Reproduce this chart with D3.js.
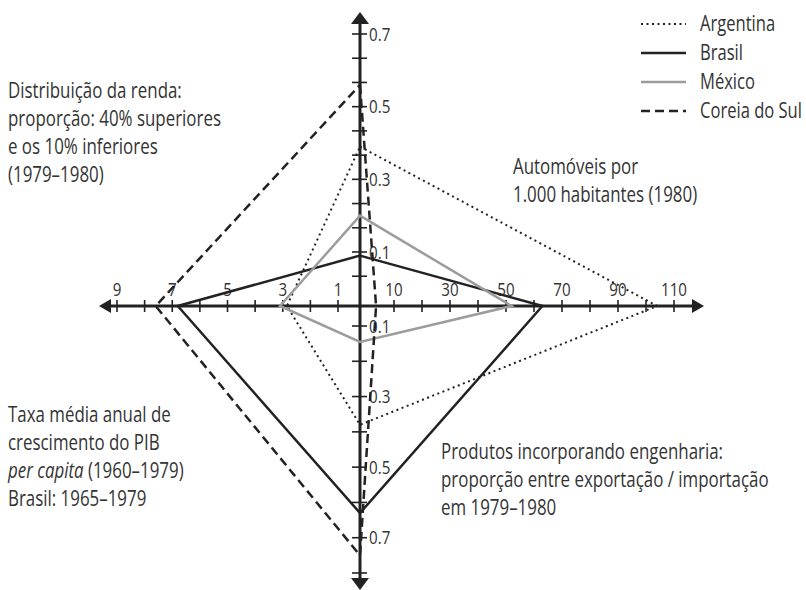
<!DOCTYPE html>
<html><head><meta charset="utf-8">
<script src="https://cdn.jsdelivr.net/npm/d3@7"></script>
<style>
body{margin:0;background:#fff}
text{font-family:"Open Sans","Liberation Sans",sans-serif;fill:#333}
</style>
</head><body><svg id="c" width="806" height="590"></svg>
<script>
// ---- data ----
const series = ["Argentina", "Brasil", "México", "Coreia do Sul"];
const topVals = [0.39, 0.09, 0.20, 0.56];      // Distribuição da renda
const rightVals = [104, 63, 52, 3.6];          // Automóveis por 1.000 hab.
const bottomVals = [0.38, 0.63, 0.145, 0.75];  // Produtos incorporando engenharia
const leftVals = [2.85, 6.8, 3.1, 7.6];        // Taxa média anual PIB per capita

const leftTicks = [1, 2, 3, 4, 5, 6, 7, 8, 9];
const leftLabels = [9, 7, 5, 3, 1];
const rightTicks = [10, 20, 30, 40, 50, 60, 70, 80, 90, 100, 110];
const rightLabels = [10, 30, 50, 70, 90, 110];
const topLabels = ["0.7", "0.5", "0.3", "0.1"];
const bottomTicks = [0.1, 0.2, 0.3, 0.4, 0.5, 0.6, 0.7, 0.8];
const bottomLabels = ["0.1", "0.3", "0.5", "0.7"];

const topText = ["Distribuição da renda:", "proporção: 40% superiores", "e os 10% inferiores", "(1979–1980)"];
const rightText = ["Automóveis por", "1.000 habitantes (1980)"];
const bottomText = ["Produtos incorporando engenharia:", "proporção entre exportação / importação", "em 1979–1980"];
const leftText = ["Taxa média anual de", "crescimento do PIB", "(1960–1979)", "Brasil: 1965–1979"];

// ---- layout ----
const svg = d3.select("#c");
const cx = 360, cy = 306;
const ink = "#222";
const yTop = d3.scaleLinear().domain([0.1, 0.7]).range([252, 34]);
const xRight = d3.scaleLinear().domain([10, 110]).range([394, 674]);
const yBottom = d3.scaleLinear().domain([0.1, 0.8]).range([326, 573]);
const xLeft = d3.scaleLinear().domain([1, 9]).range([338, 117]);
const topTicks = d3.range(11).map(i => 0.7 - i * 0.2 / 3);

const styles = [
  {color: ink, width: 2, dash: "2,3.5"},
  {color: ink, width: 2.5, dash: null},
  {color: "#9c9c9c", width: 2.5, dash: null},
  {color: ink, width: 2.5, dash: "9,5"}
];

function measure(str, size) {
  const t = svg.append("text").attr("font-size", size).text(str);
  const w = t.node().getComputedTextLength();
  t.remove();
  return w;
}
const fs = 21, lh = 28, tf = 19;
const sxText = 328 / measure(bottomText[1], fs);
const sxLeg = Math.min(80 / measure("Argentina", fs), 102 / measure("Coreia do Sul", fs));
const sxTick = 26 / measure("110", tf);
function squeeze(sel, ax, sx) {
  sel.attr("transform", `translate(${ax},0) scale(${sx},1) translate(${-ax},0)`);
}

// axes
const ax = svg.append("g");
ax.append("line").attr("x1", 108).attr("x2", 695).attr("y1", cy).attr("y2", cy)
  .attr("stroke", ink).attr("stroke-width", 3);
ax.append("line").attr("x1", cx).attr("x2", cx).attr("y1", 22).attr("y2", 582)
  .attr("stroke", ink).attr("stroke-width", 3);
const arrows = [
  [[99, cy], [111, cy - 7], [111, cy + 7]],
  [[704, cy], [692, cy - 7], [692, cy + 7]],
  [[cx, 12], [cx - 9, 24], [cx + 9, 24]],
  [[cx, 590], [cx - 9, 578], [cx + 9, 578]]
];
ax.selectAll("path.arr").data(arrows).join("path")
  .attr("d", d => "M" + d.join("L") + "Z").attr("fill", ink);

// ticks
ax.selectAll("line.tl").data(leftTicks).join("line")
  .attr("x1", d => xLeft(d)).attr("x2", d => xLeft(d)).attr("y1", cy - 6).attr("y2", cy + 6)
  .attr("stroke", ink).attr("stroke-width", 1.6);
ax.selectAll("line.tr").data(rightTicks).join("line")
  .attr("x1", d => xRight(d)).attr("x2", d => xRight(d)).attr("y1", cy - 6).attr("y2", cy + 6)
  .attr("stroke", ink).attr("stroke-width", 1.6);
ax.selectAll("line.tt").data(topTicks).join("line")
  .attr("y1", d => yTop(d)).attr("y2", d => yTop(d)).attr("x1", cx - 8).attr("x2", cx + 7)
  .attr("stroke", ink).attr("stroke-width", 1.6);
ax.selectAll("line.tb").data(bottomTicks).join("line")
  .attr("y1", d => yBottom(d)).attr("y2", d => yBottom(d)).attr("x1", cx - 8).attr("x2", cx + 7)
  .attr("stroke", ink).attr("stroke-width", 1.6);

// tick labels
ax.selectAll("text.ll").data(leftLabels).join("text")
  .attr("x", d => xLeft(d)).attr("y", 296).attr("text-anchor", "middle")
  .attr("font-size", tf).text(d => d)
  .each(function(d) { squeeze(d3.select(this), xLeft(d), sxTick); });
ax.selectAll("text.rl").data(rightLabels).join("text")
  .attr("x", d => xRight(d)).attr("y", 296).attr("text-anchor", "middle")
  .attr("font-size", tf).text(d => d)
  .each(function(d) { squeeze(d3.select(this), xRight(d), sxTick); });
ax.selectAll("text.tl2").data(topLabels).join("text")
  .attr("x", cx + 9).attr("y", d => yTop(+d)).attr("dy", "0.35em")
  .attr("font-size", tf).text(d => d)
  .each(function() { squeeze(d3.select(this), cx + 9, sxTick); });
ax.selectAll("text.bl").data(bottomLabels).join("text")
  .attr("x", cx + 9).attr("y", d => yBottom(+d)).attr("dy", "0.35em")
  .attr("font-size", tf).text(d => d)
  .each(function() { squeeze(d3.select(this), cx + 9, sxTick); });

// series polygons
const polys = svg.append("g");
series.forEach((s, i) => {
  const pts = [[cx, yTop(topVals[i])], [xRight(rightVals[i]), cy], [cx, yBottom(bottomVals[i])], [xLeft(leftVals[i]), cy]];
  polys.append("path").attr("d", d3.line()(pts) + "Z")
    .attr("fill", "none").attr("stroke", styles[i].color).attr("stroke-width", styles[i].width)
    .attr("stroke-dasharray", styles[i].dash).attr("stroke-linejoin", "miter");
});

// category texts
function block(lines, x, y0) {
  const t = svg.append("text").attr("font-size", fs);
  lines.forEach((l, k) => t.append("tspan").attr("x", x).attr("y", y0 + k * lh).attr("dy", "0.35em").text(l));
  squeeze(t, x, sxText);
  return t;
}
block(topText, 8, 91);
block(rightText, 513, 167);
block(bottomText, 441, 452);
const lt = block(leftText, 8, 415);
const t3 = lt.selectAll("tspan").filter((d, k) => k === 2);
t3.text(null);
t3.append("tspan").attr("font-style", "italic").text("per capita");
t3.append("tspan").text(" " + leftText[2]);

// legend
const lg = svg.append("g");
series.forEach((s, i) => {
  const y = 24 + i * 29;
  lg.append("line").attr("x1", 641).attr("x2", 686).attr("y1", y).attr("y2", y)
    .attr("stroke", styles[i].color).attr("stroke-width", styles[i].width)
    .attr("stroke-dasharray", styles[i].dash);
  const t = lg.append("text").attr("x", 700).attr("y", y).attr("dy", "0.35em").attr("font-size", fs).text(s);
  squeeze(t, 700, sxLeg);
});
</script></body></html>
